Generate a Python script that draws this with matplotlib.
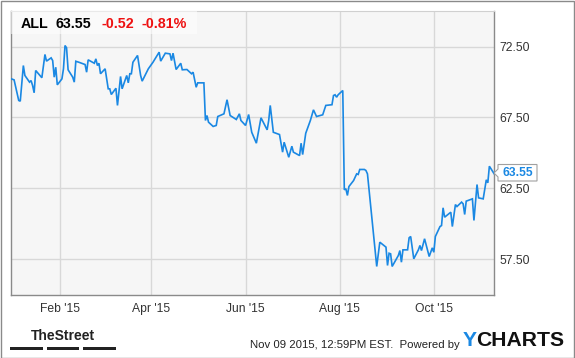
import matplotlib
matplotlib.use("Agg")
import matplotlib.pyplot as plt
import matplotlib.dates as mdates
from matplotlib.patches import Rectangle, Polygon
import pandas as pd

# ALL closing prices
dates = [
    "2014-12-31", "2015-01-02", "2015-01-05", "2015-01-06", "2015-01-08", "2015-01-09",
    "2015-01-12", "2015-01-13", "2015-01-14", "2015-01-15", "2015-01-16", "2015-01-20",
    "2015-01-22", "2015-01-23", "2015-01-26", "2015-01-27", "2015-01-28", "2015-01-29",
    "2015-01-30", "2015-02-02", "2015-02-03", "2015-02-04", "2015-02-05", "2015-02-06",
    "2015-02-09", "2015-02-10", "2015-02-11", "2015-02-13", "2015-02-17", "2015-02-18",
    "2015-02-19", "2015-02-23", "2015-02-24", "2015-02-25", "2015-02-26", "2015-02-27",
    "2015-03-02", "2015-03-04", "2015-03-05", "2015-03-06", "2015-03-09", "2015-03-10",
    "2015-03-12", "2015-03-13", "2015-03-16", "2015-03-17", "2015-03-18", "2015-03-19",
    "2015-03-20", "2015-03-23", "2015-03-25", "2015-03-26", "2015-03-30", "2015-04-02",
    "2015-04-06", "2015-04-07", "2015-04-10", "2015-04-13", "2015-04-14", "2015-04-15",
    "2015-04-17", "2015-04-20", "2015-04-21", "2015-04-24", "2015-04-27", "2015-04-28",
    "2015-04-30", "2015-05-01", "2015-05-05", "2015-05-06", "2015-05-07", "2015-05-08",
    "2015-05-11", "2015-05-13", "2015-05-14", "2015-05-18", "2015-05-20", "2015-05-22",
    "2015-05-26", "2015-05-28", "2015-05-29", "2015-06-01", "2015-06-03", "2015-06-05",
    "2015-06-08", "2015-06-11", "2015-06-15", "2015-06-16", "2015-06-17", "2015-06-19",
    "2015-06-23", "2015-06-25", "2015-06-26", "2015-06-29", "2015-07-01", "2015-07-02",
    "2015-07-06", "2015-07-07", "2015-07-08", "2015-07-10", "2015-07-13", "2015-07-15",
    "2015-07-17", "2015-07-21", "2015-07-23", "2015-07-27", "2015-07-28", "2015-07-29",
    "2015-07-30", "2015-07-31", "2015-08-03", "2015-08-04", "2015-08-05", "2015-08-06",
    "2015-08-07", "2015-08-10", "2015-08-12", "2015-08-13", "2015-08-14", "2015-08-17",
    "2015-08-18", "2015-08-19", "2015-08-25", "2015-08-27", "2015-08-31", "2015-09-01",
    "2015-09-02", "2015-09-03", "2015-09-04", "2015-09-08", "2015-09-09", "2015-09-10",
    "2015-09-11", "2015-09-14", "2015-09-15", "2015-09-16", "2015-09-18", "2015-09-21",
    "2015-09-22", "2015-09-23", "2015-09-25", "2015-09-28", "2015-09-30", "2015-10-01",
    "2015-10-02", "2015-10-05", "2015-10-06", "2015-10-07", "2015-10-08", "2015-10-12",
    "2015-10-13", "2015-10-15", "2015-10-16", "2015-10-19", "2015-10-20", "2015-10-21",
    "2015-10-22", "2015-10-26", "2015-10-27", "2015-10-29", "2015-10-30", "2015-11-02",
    "2015-11-04", "2015-11-05", "2015-11-06", "2015-11-09",
]
prices = [
    70.23, 70.15, 68.70, 68.65, 71.16, 70.46,
    69.99, 70.10, 69.75, 69.24, 70.81, 70.30,
    71.94, 71.47, 71.70, 71.51, 70.34, 71.04,
    69.80, 70.22, 70.93, 72.57, 72.41, 70.86,
    70.34, 69.99, 71.46, 71.39, 71.23, 70.69,
    71.56, 71.32, 71.63, 71.16, 71.32, 70.58,
    70.93, 69.52, 69.52, 69.12, 69.56, 68.35,
    70.39, 69.52, 70.46, 69.94, 70.58, 70.58,
    71.39, 71.87, 70.46, 70.06, 70.93, 71.39,
    72.10, 71.47, 72.03, 71.98, 71.51, 72.03,
    70.88, 71.32, 70.86, 70.88, 70.58, 70.69,
    69.63, 69.94, 69.94, 67.29, 67.64, 67.17,
    66.87, 66.94, 67.57, 67.76, 68.75, 67.64,
    67.36, 67.76, 67.29, 66.94, 67.71, 66.46,
    65.69, 67.48, 66.63, 67.29, 68.35, 66.46,
    66.30, 65.06, 65.76, 64.70, 65.48, 65.06,
    64.82, 65.69, 64.89, 66.39, 67.29, 68.04,
    67.57, 67.69, 68.35, 68.40, 69.05, 69.10,
    68.93, 69.10, 69.40, 62.41, 62.48, 62.01,
    62.64, 63.06, 63.53, 63.49, 63.84, 63.84,
    63.77, 63.53, 57.01, 58.72, 58.37, 57.08,
    57.94, 57.90, 57.01, 57.78, 58.13, 57.31,
    58.18, 58.18, 59.03, 59.12, 57.55, 58.18,
    58.49, 58.13, 58.96, 57.71, 58.32, 58.01,
    59.12, 59.82, 59.89, 61.14, 60.48, 60.83,
    59.82, 61.37, 61.23, 61.54, 61.42, 60.67,
    61.61, 61.77, 60.25, 62.78, 61.84, 61.77,
    63.11, 62.90, 64.07, 63.55,
]
yticks = [57.5, 62.5, 67.5, 72.5]
xticks = ["2015-02-01", "2015-04-01", "2015-06-01", "2015-08-01", "2015-10-01"]
xlabels = ["Feb '15", "Apr '15", "Jun '15", "Aug '15", "Oct '15"]

ticker = "ALL"
last = "63.55"
change = "-0.52"
pct = "-0.81%"

W, H = 575, 358
plt.rcParams["font.family"] = ["Liberation Sans", "DejaVu Sans"]

fig = plt.figure(figsize=(W / 100, H / 100), dpi=100)
fig.patch.set_facecolor("white")


def px(x, y):
    return x / W, 1 - y / H


# plot area 11..494 x 11..295 px
ax = fig.add_axes([11 / W, 1 - 295 / H, 483 / W, 284 / H])
ax.set_facecolor("#f6f6f6")

d = pd.to_datetime(dates)
ax.plot(d, prices, color="#1a88e3", lw=1.2, solid_joinstyle="miter", zorder=3)

ax.set_xlim(pd.Timestamp("2014-12-31"), pd.Timestamp("2015-11-09"))
ax.set_ylim(55, 75)
ax.set_yticks(yticks)
ax.set_yticklabels(["%.2f" % v for v in yticks])
ax.set_xticks(pd.to_datetime(xticks))
ax.set_xticklabels(xlabels)
ax.yaxis.tick_right()
ax.tick_params(axis="both", length=0, labelsize=8.7, colors="#333333")
ax.tick_params(axis="y", pad=4)
ax.tick_params(axis="x", pad=5.5)
ax.grid(True, color="#d8d8d8", lw=1)
ax.set_axisbelow(True)
for s in ["left", "right", "bottom"]:
    ax.spines[s].set_color("#8a8a8a")
    ax.spines[s].set_linewidth(1)
ax.spines["top"].set_color("#d0d0d0")

# header box with quote
ax.add_patch(Rectangle((0, 1 - 23 / 284), 186 / 483, 23 / 284, transform=ax.transAxes,
                       facecolor="white", alpha=0.55, edgecolor="none", zorder=4))
hy = 1 - 23.5 / H
fig.text(21 / W, hy, ticker, fontsize=10.3, fontweight="bold", color="black", va="center")
fig.text(56 / W, hy, last, fontsize=10.3, fontweight="bold", color="black", va="center")
fig.text(101 / W, hy, change, fontsize=10.3, fontweight="bold", color="#ee1111", va="center")
fig.text(142 / W, hy, pct, fontsize=10.3, fontweight="bold", color="#ee1111", va="center")

# last price tag
tag = Polygon([px(494, 173), px(498, 169), px(498, 164.5), px(537, 164.5),
               px(537, 181), px(498, 181), px(498, 177)], closed=True,
              transform=fig.transFigure, facecolor="white", edgecolor="#a0a0a0", lw=0.8, zorder=5)
fig.patches.append(tag)
fig.text(518 / W, 1 - 173 / H, last, fontsize=8.7, fontweight="bold", color="#1a88e3",
         ha="center", va="center", zorder=6)

# footer
fig.text(63 / W, 1 - 336 / H, "TheStreet", fontsize=10, fontweight="bold", color="#222222",
         ha="center", va="center", fontstretch="condensed")
for x0, x1 in [(10, 43), (47, 79), (83, 116)]:
    fig.patches.append(Rectangle(px(x0, 350), (x1 - x0) / W, 3 / H, transform=fig.transFigure,
                                 facecolor="#222222", edgecolor="none"))
fig.text(460 / W, 1 - 345 / H, "Nov 09 2015, 12:59PM EST.  Powered by", fontsize=8.2,
         color="#222222", ha="right", va="center")
fig.text(463 / W, 1 - 341 / H, "Y", fontsize=15.2, fontweight="bold", color="#1a88e3",
         va="center")
fig.text(476 / W, 1 - 341 / H, "CHARTS", fontsize=15.2, fontweight="bold", color="#111111",
         va="center")

# outer border
fig.patches.append(Rectangle((0.5 / W, 0.5 / H), (W - 1.5) / W, (H - 1.5) / H,
                             transform=fig.transFigure, facecolor="none",
                             edgecolor="#8a8a8a", lw=1))

fig.savefig("out.png", dpi=100)
